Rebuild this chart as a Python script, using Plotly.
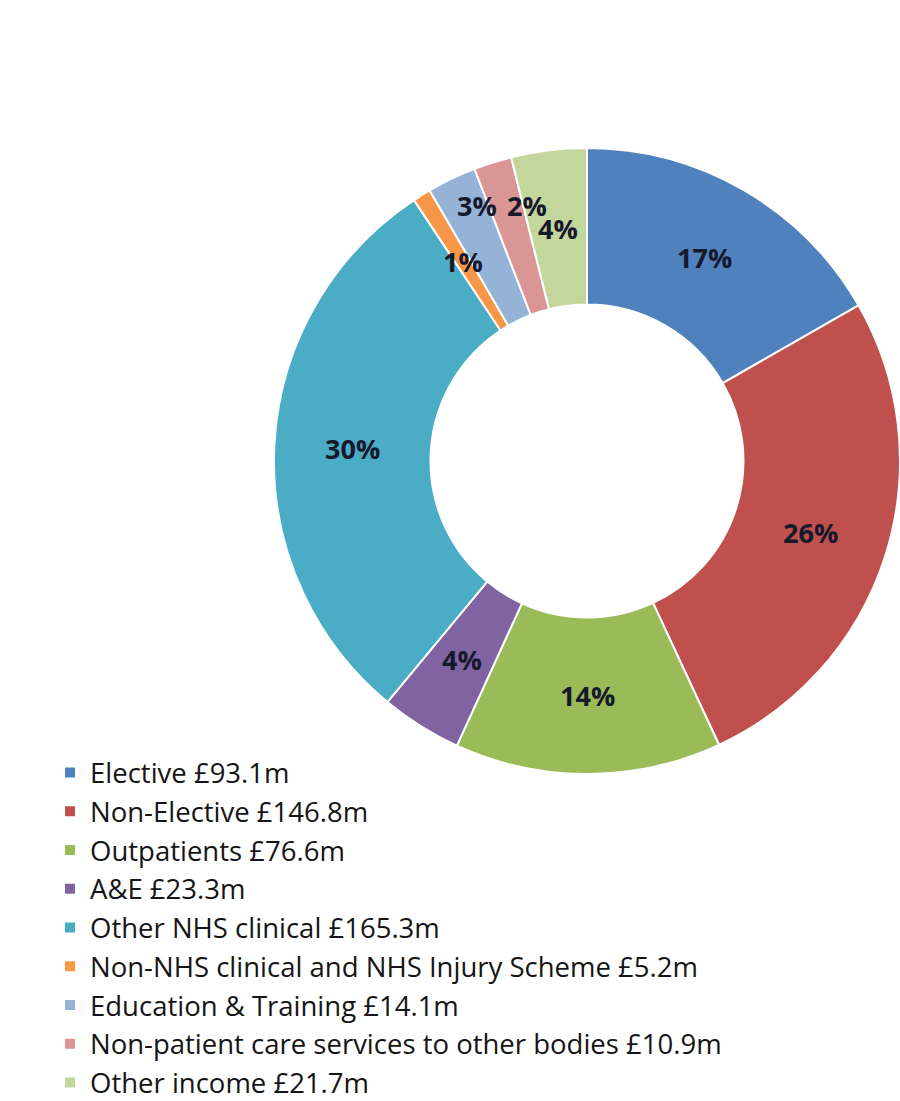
import math
import plotly.graph_objects as go

# Income by category (£m)
categories = [
    "Elective", "Non-Elective", "Outpatients", "A&E", "Other NHS clinical",
    "Non-NHS clinical and NHS Injury Scheme", "Education & Training",
    "Non-patient care services to other bodies", "Other income",
]
income_m = [93.1, 146.8, 76.6, 23.3, 165.3, 5.2, 14.1, 10.9, 21.7]
slice_colors = [
    "#4F81BD", "#C0504D", "#9BBB59", "#8064A2", "#4BACC6",
    "#F79646", "#95B3D7", "#D99694", "#C3D69B",
]

# Percentage labels sit mid-ring; two thin neighbouring slices get their
# labels pushed outward (radius fraction, extra clockwise degrees).
label_nudge = {
    "Education & Training": (0.89, 2.3),
    "Non-patient care services to other bodies": (0.84, 4.3),
}

legend_labels = [f"{c} £{v:.1f}m" for c, v in zip(categories, income_m)]

W, H = 900, 1101
HOLE = 0.5
dom_x = [0.3044, 1.0]
dom_y = [1 - 774 / H, 1 - 148 / H]

fig = go.Figure(
    go.Pie(
        labels=legend_labels,
        values=income_m,
        sort=False,
        direction="clockwise",
        rotation=0,
        hole=HOLE,
        marker=dict(colors=slice_colors, line=dict(color="white", width=2)),
        textinfo="none",
        domain=dict(x=dom_x, y=dom_y),
        hoverinfo="label+percent",
    )
)

# Ring geometry in pixels, derived from the pie domain
cx = W * (dom_x[0] + dom_x[1]) / 2
cy = H * (1 - (dom_y[0] + dom_y[1]) / 2)
R = min(W * (dom_x[1] - dom_x[0]), H * (dom_y[1] - dom_y[0])) / 2

total = sum(income_m)
cum = 0.0
for cat, v in zip(categories, income_m):
    frac = v / total
    mid = cum + frac / 2
    cum += frac
    rf, dang = label_nudge.get(cat, ((1 + HOLE) / 2, 0.0))
    theta = math.radians(mid * 360 + dang)
    px = cx + rf * R * math.sin(theta)
    py = cy - rf * R * math.cos(theta)
    fig.add_annotation(
        x=px / W, y=1 - py / H, xref="paper", yref="paper",
        text=f"{frac:.0%}", showarrow=False,
        xanchor="center", yanchor="middle",
        font=dict(family="Open Sans", size=27, color="#15192b", weight="bold"),
    )

fig.update_layout(
    width=W,
    height=H,
    margin=dict(l=0, r=0, t=0, b=0, autoexpand=False),
    paper_bgcolor="white",
    plot_bgcolor="white",
    showlegend=True,
    legend=dict(
        x=50 / W,
        y=1 - 748 / H,
        xanchor="left",
        yanchor="top",
        orientation="v",
        font=dict(family="Open Sans", size=27.5, color="#151515"),
        bgcolor="rgba(0,0,0,0)",
        itemclick=False,
    ),
)

fig.write_html("out.html")
